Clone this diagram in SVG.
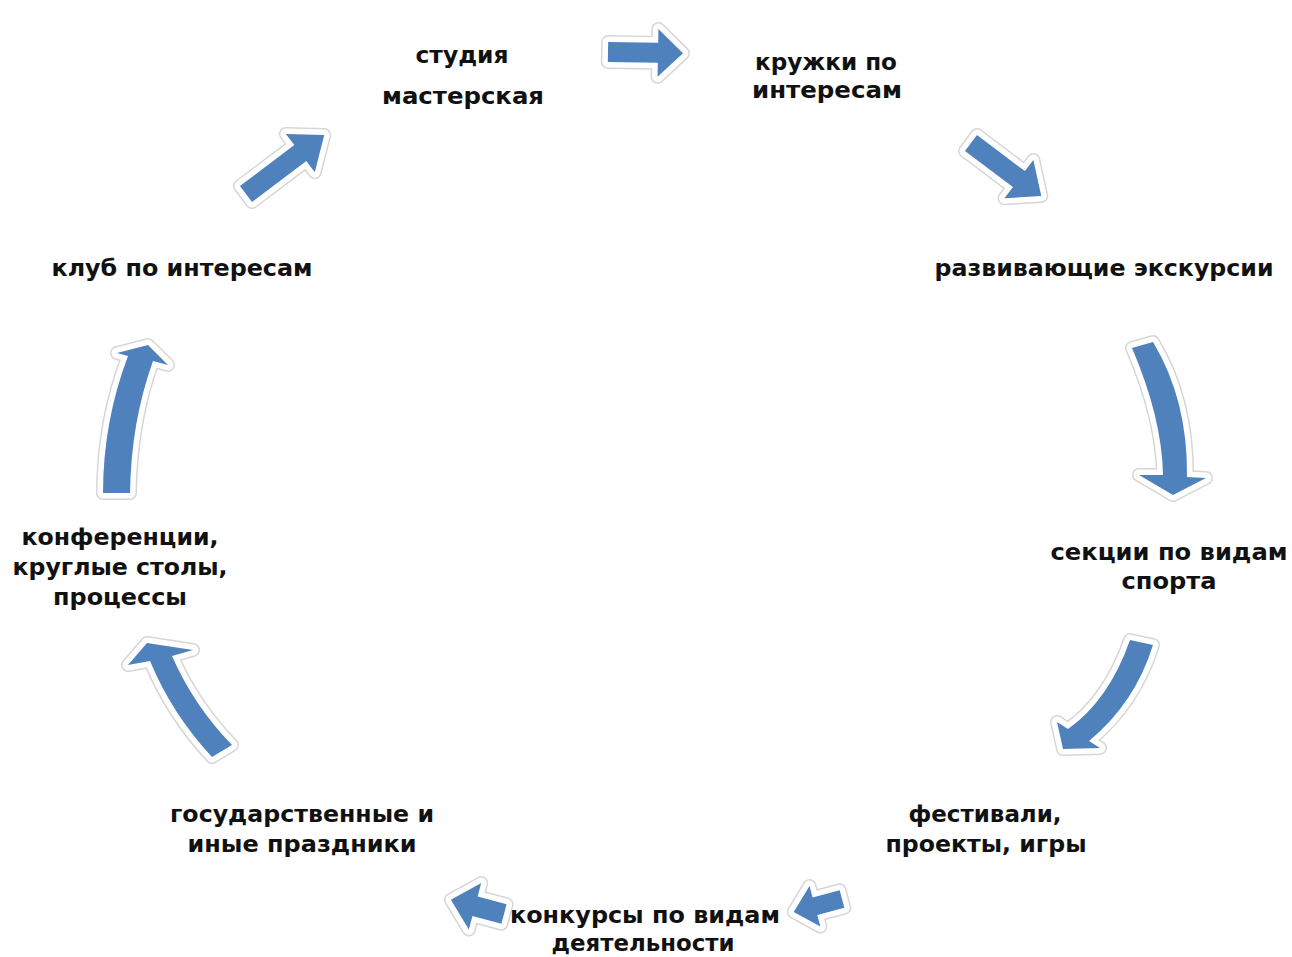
<svg xmlns="http://www.w3.org/2000/svg" xmlns:xlink="http://www.w3.org/1999/xlink" width="1292" height="957" viewBox="0 0 1292 957">
<defs>
<style>
.edge{fill:none;stroke:#d6d6d6;stroke-width:14;stroke-linejoin:round}
.halo{fill:#fff;stroke:#fff;stroke-width:11;stroke-linejoin:round}
.body{fill:#4f81bd;stroke:none}
.t{font-family:"DejaVu Sans","Verdana",sans-serif;font-weight:bold;font-size:23px;fill:#111;text-anchor:middle}
</style>
<path id="a1" transform="translate(608,52) rotate(1)" d="M0,-10H50V-24L75,0L50,24V10H0Z"/>
<path id="a2" transform="translate(971,143) rotate(37)" d="M0,-10H60V-24L88,0L60,24V10H0Z"/>
<path id="a3" d="M1132,348 Q1162,418 1163,475 L1139,475 L1173,495 L1206,478 L1187,477 Q1188,400 1153,342 Z"/>
<path id="a4" d="M1130,640 Q1109,700 1068,729 L1057,722 L1063,749 L1100,748 L1089,741 Q1135,703 1153,645 Z"/>
<path id="a5" transform="translate(842,899) rotate(165)" d="M0,-9H28V-21L50,0L28,21V9H0Z"/>
<path id="a6" transform="translate(504,914) rotate(195)" d="M0,-10H30V-24L55,0L30,24V10H0Z"/>
<path id="a7" d="M212,757 Q172,714 150,661 L128,665 L147,643 L193,650 L172,656 Q194,706 232,745 Z"/>
<path id="a8" d="M103,493 Q103,422 128,356 L117,353 L148,345 L168,365 L153,361 Q131,422 130,493 Z"/>
<path id="a9" transform="translate(246,194) rotate(-37)" d="M0,-10H68V-24L98,0L68,24V10H0Z"/>
</defs>
<rect width="1292" height="957" fill="#fff"/>
<g id="connectors">
<use xlink:href="#a1" class="edge"/><use xlink:href="#a1" class="halo"/><use xlink:href="#a1" class="body"/>
<use xlink:href="#a2" class="edge"/><use xlink:href="#a2" class="halo"/><use xlink:href="#a2" class="body"/>
<use xlink:href="#a3" class="edge"/><use xlink:href="#a3" class="halo"/><use xlink:href="#a3" class="body"/>
<use xlink:href="#a4" class="edge"/><use xlink:href="#a4" class="halo"/><use xlink:href="#a4" class="body"/>
<use xlink:href="#a5" class="edge"/><use xlink:href="#a5" class="halo"/><use xlink:href="#a5" class="body"/>
<use xlink:href="#a6" class="edge"/><use xlink:href="#a6" class="halo"/><use xlink:href="#a6" class="body"/>
<use xlink:href="#a7" class="edge"/><use xlink:href="#a7" class="halo"/><use xlink:href="#a7" class="body"/>
<use xlink:href="#a8" class="edge"/><use xlink:href="#a8" class="halo"/><use xlink:href="#a8" class="body"/>
<use xlink:href="#a9" class="edge"/><use xlink:href="#a9" class="halo"/><use xlink:href="#a9" class="body"/>
</g>
<g id="node-studio">
<text class="t" x="462" y="63" textLength="93" lengthAdjust="spacingAndGlyphs">студия</text>
<text class="t" x="463" y="104" textLength="162" lengthAdjust="spacingAndGlyphs">мастерская</text>
</g>
<g id="node-kruzhki">
<text class="t" x="826" y="70" textLength="142" lengthAdjust="spacingAndGlyphs">кружки по</text>
<text class="t" x="827" y="98" textLength="150" lengthAdjust="spacingAndGlyphs">интересам</text>
</g>
<g id="node-excursions">
<text class="t" x="1104" y="276" textLength="339" lengthAdjust="spacingAndGlyphs">развивающие экскурсии</text>
</g>
<g id="node-sections">
<text class="t" x="1169" y="560" textLength="237" lengthAdjust="spacingAndGlyphs">секции по видам</text>
<text class="t" x="1169" y="589" textLength="95" lengthAdjust="spacingAndGlyphs">спорта</text>
</g>
<g id="node-festivals">
<text class="t" x="985" y="822" textLength="153" lengthAdjust="spacingAndGlyphs">фестивали,</text>
<text class="t" x="986" y="852" textLength="201" lengthAdjust="spacingAndGlyphs">проекты, игры</text>
</g>
<g id="node-contests">
<text class="t" x="645" y="923" textLength="270" lengthAdjust="spacingAndGlyphs">конкурсы по видам</text>
<text class="t" x="643" y="951" textLength="183" lengthAdjust="spacingAndGlyphs">деятельности</text>
</g>
<g id="node-holidays">
<text class="t" x="302" y="822" textLength="264" lengthAdjust="spacingAndGlyphs">государственные и</text>
<text class="t" x="302" y="852" textLength="229" lengthAdjust="spacingAndGlyphs">иные праздники</text>
</g>
<g id="node-conferences">
<text class="t" x="120" y="545" textLength="197" lengthAdjust="spacingAndGlyphs">конференции,</text>
<text class="t" x="120" y="575" textLength="215" lengthAdjust="spacingAndGlyphs">круглые столы,</text>
<text class="t" x="120" y="605" textLength="134" lengthAdjust="spacingAndGlyphs">процессы</text>
</g>
<g id="node-club">
<text class="t" x="182" y="276" textLength="261" lengthAdjust="spacingAndGlyphs">клуб по интересам</text>
</g>
</svg>
